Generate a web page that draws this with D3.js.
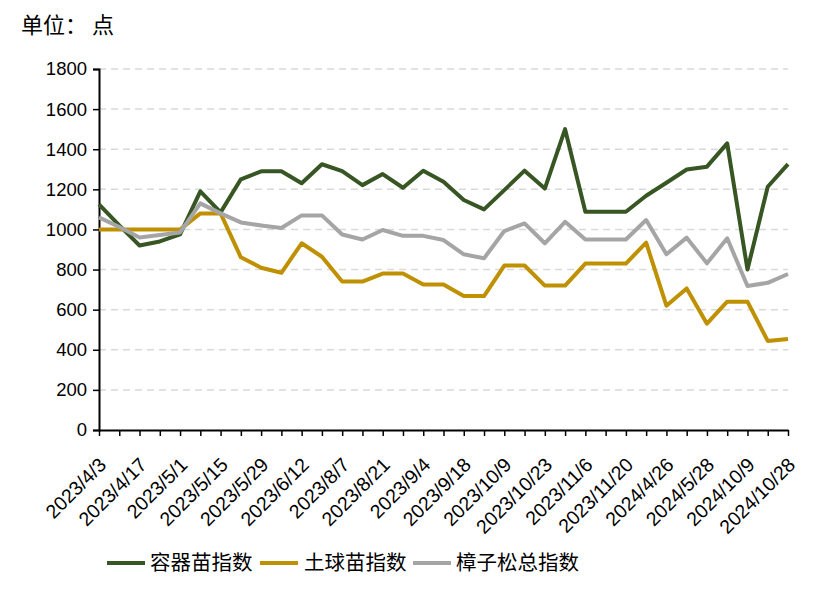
<!DOCTYPE html>
<html><head><meta charset="utf-8">
<script src="https://cdn.jsdelivr.net/npm/d3@7"></script>
<style>
html,body{margin:0;padding:0;background:#fff;}
svg{display:block;}
</style></head>
<body>
<svg id="chart" width="830" height="597"></svg>
<script>
const categories = [
 "2023/4/3","2023/4/10","2023/4/17","2023/4/24","2023/5/1","2023/5/8","2023/5/15","2023/5/22",
 "2023/5/29","2023/6/5","2023/6/12","2023/7/24","2023/8/7","2023/8/14","2023/8/21","2023/8/28",
 "2023/9/4","2023/9/11","2023/9/18","2023/9/25","2023/10/9","2023/10/16","2023/10/23","2023/10/30",
 "2023/11/6","2023/11/13","2023/11/20","2024/4/12","2024/4/26","2024/5/14","2024/5/28","2024/9/24",
 "2024/10/9","2024/10/18","2024/10/28"
];
const containerIndex = [1125,1020,920,940,975,1190,1085,1250,1290,1290,1230,1325,1291,1221,1276,1208,
 1293,1238,1147,1100,1196,1293,1204,1500,1088,1088,1088,1168,1233,1299,1313,1429,800,1213,1326];
const rootballIndex = [1000,1000,1000,1000,1000,1080,1080,861,809,784,931,864,740,740,780,780,
 726,726,668,668,820,820,720,720,830,830,830,934,620,706,530,640,640,444,454];
const pineIndex = [1060,1012,960,972,985,1130,1080,1035,1020,1007,1070,1070,975,950,997,968,
 968,947,876,856,992,1030,931,1038,950,950,950,1047,876,959,831,956,718,734,778];
const seriesNames = ["容器苗指数","土球苗指数","樟子松总指数"];
const seriesColors = ["#375623","#BF9000","#A5A5A5"];
const yTicks = [0,200,400,600,800,1000,1200,1400,1600,1800];
const unitLabel = ["单位：", "点"];

const svg = d3.select("#chart");
const M = {left:99, right:788, top:69, bottom:430};
const x = d3.scalePoint().domain(categories).range([M.left, M.right]);
const y = d3.scaleLinear().domain([0,1800]).range([M.bottom, M.top]);
const numFont = "'Liberation Sans', Arial, sans-serif";
const cjkFont = "'Noto Sans CJK SC', sans-serif";

// gridlines
svg.append("g").selectAll("line").data(yTicks.filter(d=>d>0)).join("line")
  .attr("x1", M.left).attr("x2", M.right)
  .attr("y1", d=>y(d)).attr("y2", d=>y(d))
  .attr("stroke", "#D9D9D9").attr("stroke-width", 1.5).attr("stroke-dasharray", "7,5");

// y axis
const yAxis = svg.append("g").attr("transform", `translate(${M.left},0)`)
  .call(d3.axisLeft(y).tickValues(yTicks).tickSize(6).tickPadding(6).tickFormat(d3.format("d")));
yAxis.select(".domain").attr("stroke","#000").attr("stroke-width",2);
yAxis.selectAll(".tick line").attr("stroke","#000").attr("stroke-width",1.5);
yAxis.selectAll(".tick text").attr("font-family", numFont).attr("font-size", 18.5).attr("fill","#000");

// x axis
const xAxis = svg.append("g").attr("transform", `translate(0,${M.bottom})`)
  .call(d3.axisBottom(x).tickSize(6).tickSizeOuter(0).tickFormat((d,i)=> i%2===0 ? d : ""));
xAxis.select(".domain").attr("stroke","#000").attr("stroke-width",2);
xAxis.selectAll(".tick line").attr("stroke","#000").attr("stroke-width",1.5);
xAxis.selectAll(".tick text")
  .attr("font-family", numFont).attr("font-size", 19.5).attr("fill","#000")
  .attr("text-anchor","end").attr("dy", null).attr("y", 0)
  .attr("transform","translate(8,36) rotate(-45)");

// lines
const allSeries = [containerIndex, rootballIndex, pineIndex];
const line = d3.line().x((d,i)=>x(categories[i])).y(d=>y(d));
allSeries.forEach((s, k) => {
  svg.append("path").datum(s).attr("d", line)
    .attr("fill","none").attr("stroke", seriesColors[k]).attr("stroke-width", 4)
    .attr("stroke-linejoin","round").attr("stroke-linecap","butt");
});

// unit label
const ut = svg.append("text").attr("y", 33).attr("font-family", cjkFont)
  .attr("font-size", 22).attr("fill","#000");
ut.append("tspan").attr("x", 21).text(unitLabel[0]);
ut.append("tspan").attr("x", 92).text(unitLabel[1]);

// legend
const legendPos = [{lx:107, tx:150},{lx:260, tx:304},{lx:413, tx:456}];
const lg = svg.append("g");
seriesNames.forEach((n,k)=>{
  const p = legendPos[k];
  lg.append("line").attr("x1", p.lx).attr("x2", p.lx+38).attr("y1", 563).attr("y2", 563)
    .attr("stroke", seriesColors[k]).attr("stroke-width", 4);
  lg.append("text").attr("x", p.tx).attr("y", 570).attr("font-family", cjkFont)
    .attr("font-size", 20.5).attr("fill","#000").text(n);
});
</script>
</body></html>
